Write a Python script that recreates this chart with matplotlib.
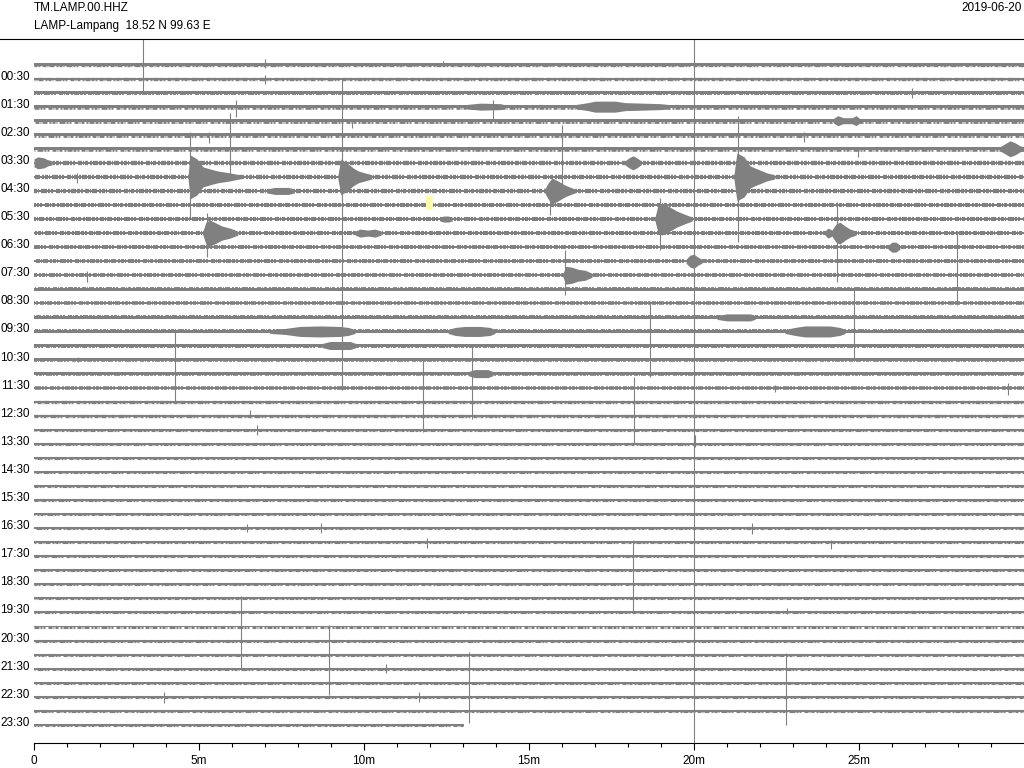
import matplotlib
matplotlib.use("Agg")
import numpy as np
import matplotlib.pyplot as plt
from matplotlib.patches import Rectangle
from matplotlib.lines import Line2D
from matplotlib.ticker import FixedLocator
import matplotlib.transforms as mtransforms

plt.rcParams['font.family'] = ['Liberation Sans', 'DejaVu Sans']
plt.rcParams['lines.scale_dashes'] = False

# ---------------- data ----------------
station = "TM.LAMP.00.HHZ"
site = "LAMP-Lampang  18.52 N 99.63 E"
date = "2019-06-20"

row_labels = ["00:30", "01:30", "02:30", "03:30", "04:30", "05:30", "06:30", "07:30",
              "08:30", "09:30", "10:30", "11:30", "12:30", "13:30", "14:30", "15:30",
              "16:30", "17:30", "18:30", "19:30", "20:30", "21:30", "22:30", "23:30"]
labelled_rows = [1, 3, 5, 7, 9, 11, 13, 15, 17, 19, 21, 23, 25, 27, 29, 31, 33, 35,
                 37, 39, 41, 43, 45, 47]

x_ticks = [0, 5, 10, 15, 20, 25]
x_ticklabels = ["0", "5m", "10m", "15m", "20m", "25m"]
x_minor = [1, 2, 3, 4, 6, 7, 8, 9, 11, 12, 13, 14, 16, 17, 18, 19, 21, 22, 23, 24,
           26, 27, 28, 29]

last_row_end = 13.03          # minutes of data in last half-hour line

# background noise half-amplitude of each half-hour trace (amplitude units)
noise_hw = [1.4, 1.4, 1.6, 1.9, 2.0, 2.0, 1.9, 1.8, 1.8, 1.8, 1.7, 1.7,
            1.7, 1.6, 1.6, 1.6, 1.6, 1.5, 1.6, 1.6, 1.6, 1.5, 1.5, 1.5,
            1.4, 1.4, 1.3, 1.3, 1.3, 1.3, 1.3, 1.3, 1.3, 1.3, 1.3, 1.3,
            1.3, 1.3, 1.3, 1.3, 1.3, 1.3, 1.3, 1.3, 1.3, 1.3, 1.3, 1.3]

# impulsive spikes: trace row, minute, upward and downward excursion
spike_row = [0, 0, 1, 8, 3, 4, 5, 8, 8, 9, 9, 8, 11, 12, 12, 12, 15, 15, 16, 17,
             19, 20, 21, 23, 23, 23, 25, 26, 27, 2, 5, 6, 4, 3, 33, 33, 34, 33,
             34, 34, 38, 40, 42, 42, 43, 45, 45, 0, 39, 21]
spike_min = [3.30, 7.00, 7.00, 9.33, 6.12, 5.94, 5.30, 4.73, 1.30, 16.00, 15.64,
             21.33, 18.97, 5.24, 24.33, 27.97, 16.09, 1.61, 24.85, 18.67, 4.27,
             13.27, 11.79, 18.18, 29.52, 22.45, 6.55, 6.76, 20.03, 26.61, 23.33,
             24.97, 9.64, 13.91, 6.45, 8.70, 11.91, 21.76, 24.15, 18.15, 6.27,
             8.94, 13.18, 22.79, 10.67, 3.94, 11.67, 12.39, 22.82, 1.33]
spike_up = [30, 6, 4, 99, 7, 8, 3, 45, 4, 66, 9, 61, 21, 20, 31, 2, 25, 4, 1, 2,
            2, 2, 2, 11, 5, 3, 6, 5, 9, 5, 3, 2, 1, 7, 4, 5, 4, 5, 2, 2, 2, 2, 3,
            2, 5, 5, 5, 4, 4, 3]
spike_dn = [26, 3, 5, 213, 10, 58, 8, 41, 6, 6, 24, 65, 31, 24, 49, 72, 20, 7,
            71, 74, 72, 73, 72, 56, 7, 4, 2, 5, 3, 5, 7, 8, 7, 13, 4, 5, 6, 6, 7,
            71, 70, 68, 68, 70, 4, 6, 5, 1, 2, 2]

# earthquake / noise-burst envelopes: trace row, minutes, half-amplitude
env_row = [8, 8, 8, 9, 11, 12, 12, 15, 6, 7, 7, 14,
           3, 3, 19, 19, 19, 20, 22, 4, 12, 18, 9, 13, 11]
env_min = [
    [4.67, 4.73, 4.94, 5.12, 5.33, 5.55, 5.94, 6.24],
    [9.21, 9.30, 9.52, 9.67, 9.82, 10.03, 10.24],
    [21.21, 21.30, 21.52, 21.70, 21.91, 22.21, 22.45],
    [15.48, 15.58, 15.70, 15.88, 16.03, 16.15, 16.39],
    [18.82, 18.91, 19.03, 19.27, 19.48, 19.70, 19.94],
    [5.12, 5.21, 5.33, 5.52, 5.70, 5.94, 6.18],
    [23.97, 24.06, 24.18, 24.30, 24.42, 24.58, 24.73, 24.91],
    [16.03, 16.12, 16.30, 16.48, 16.70, 16.91],
    [29.27, 29.42, 29.58, 29.73, 29.88, 30.00],
    [17.91, 18.03, 18.15, 18.27, 18.39],
    [0.00, 0.12, 0.30, 0.42, 0.55],
    [19.76, 19.88, 20.00, 20.12, 20.24],
    [13.06, 13.52, 14.12, 14.27],
    [16.39, 16.79, 17.00, 17.61, 17.91, 18.97, 19.27],
    [7.15, 7.61, 8.06, 8.67, 9.27, 9.52, 9.73],
    [12.55, 12.76, 13.06, 13.52, 13.82, 13.97],
    [22.76, 23.06, 23.36, 24.12, 24.42, 24.58],
    [8.73, 8.97, 9.58, 9.76],
    [13.15, 13.36, 13.76, 13.91],
    [24.21, 24.36, 24.52, 24.79, 24.91, 25.03],
    [9.73, 9.88, 10.12, 10.33, 10.52],
    [20.70, 21.00, 21.70, 21.85],
    [7.06, 7.30, 7.70, 7.88],
    [25.88, 26.00, 26.12, 26.24],
    [12.30, 12.42, 12.55, 12.67],
]
env_amp = [
    [2, 22, 18, 10, 8, 6, 4, 2],
    [2, 18, 13, 9, 6, 4, 2],
    [2, 24, 20, 11, 8, 4, 2],
    [2, 8, 13, 10, 7, 5, 2],
    [2, 14, 16, 12, 8, 5, 2],
    [2, 11, 13, 10, 7, 5, 2],
    [2, 5, 3, 9, 11, 7, 4, 2],
    [2, 9, 8, 6, 5, 2],
    [2, 5, 8, 6, 3, 2],
    [2, 5, 7, 5, 2],
    [4, 6, 5, 3, 2],
    [2, 6, 7, 4, 2],
    [2, 3.5, 3, 2],
    [2, 4, 5.5, 5.5, 4, 3, 2],
    [2, 3, 5, 5.5, 5, 4, 2],
    [2, 4, 5, 5, 4, 2],
    [2, 4, 5.5, 5.5, 4, 2],
    [2, 4, 4, 2],
    [2, 4, 4, 2],
    [2, 5, 3, 3, 5, 2],
    [2, 4, 3, 4, 2],
    [2, 3.5, 3.5, 2],
    [2, 3.5, 3.5, 2],
    [2, 5, 5, 2],
    [2, 3, 3, 2],
]

marker_min = 11.88     # yellow pick marker
marker_row = 9.86

# ---------------- styling / layout ----------------
W, H, DPI = 1024, 768, 100
TRACE = "#808080"
AMP = 14.05            # amplitude units per trace spacing
PT = 72.0 / DPI        # points per pixel
ax_left, ax_right, ax_top, ax_bot = 34, 1024, 39, 743
row0_px = 64.5
# irregular dash pattern (pixels): thick segments with short gaps
jitter_dash = [3, 1, 2, 2, 4, 1, 1, 1, 5, 2, 2, 1, 3, 1, 1, 2, 6, 1, 2, 1,
               2, 3, 4, 1, 1, 1, 3, 2, 2, 1, 5, 1]

fig = plt.figure(figsize=(W / DPI, H / DPI), dpi=DPI)
ax = fig.add_axes([ax_left / W, 1 - ax_bot / H, (ax_right - ax_left) / W,
                   (ax_bot - ax_top) / H])
ax.set_xlim(0, 30)
ax.set_ylim((ax_bot - row0_px) / AMP, (ax_top - row0_px) / AMP)

n_rows = len(noise_hw)
dash_pt = [d * PT for d in jitter_dash]
for r in range(n_rows):
    end = 30 if r < n_rows - 1 else last_row_end
    core = 0.75 * noise_hw[r] / AMP
    ax.fill_between([0, end], r - core, r + core, color=TRACE, lw=0, zorder=2)
    ax.plot([0, end], [r, r], color=TRACE, lw=2 * noise_hw[r] * 1.2 * PT,
            solid_capstyle="butt", dash_capstyle="butt",
            linestyle=((11 * r % 37) * PT, dash_pt), zorder=2)

for r, t, a in zip(env_row, env_min, env_amp):
    a = np.asarray(a) / AMP
    ax.fill_between(t, r - a, r + a, color=TRACE, lw=0, zorder=2)

sr = np.asarray(spike_row, dtype=float)
ax.vlines(spike_min, sr - np.asarray(spike_up) / AMP, sr + np.asarray(spike_dn) / AMP,
          color=TRACE, lw=0.8, zorder=2)

ax.axvline(20, color=TRACE, lw=0.8, zorder=2)

ax.add_patch(Rectangle((marker_min, marker_row - 0.5), 0.21, 1.0,
                       facecolor="#fffcb0", edgecolor="none", zorder=4))

for s in ("top", "left", "right"):
    ax.spines[s].set_visible(False)
ax.spines["bottom"].set_linewidth(0.8)
ax.spines["bottom"].set_color("black")

ax.set_xticks(x_ticks)
ax.set_xticklabels(x_ticklabels)
ax.xaxis.set_minor_locator(FixedLocator(x_minor))
ax.tick_params(axis="x", which="major", length=5.3, width=0.8, pad=3.5,
               labelsize=8.5, colors="black")
ax.tick_params(axis="x", which="minor", length=3.1, width=0.8)

ax.set_yticks(labelled_rows)
ax.set_yticklabels(row_labels)
ax.tick_params(axis="y", length=0, pad=3, labelsize=8.5)
shift = mtransforms.ScaledTranslation(0, 3.5 / DPI, fig.dpi_scale_trans)
for lab in ax.get_yticklabels():
    lab.set_transform(lab.get_transform() + shift)

fig.add_artist(Line2D([0, 1], [1 - ax_top / H] * 2, transform=fig.transFigure,
                      color="black", lw=0.8))
fig.text(34 / W, 1 - 8 / H, station, ha="left", va="center", fontsize=8.5)
fig.text(34 / W, 1 - 26 / H, site, ha="left", va="center", fontsize=8.5)
fig.text(1022 / W, 1 - 8 / H, date, ha="right", va="center", fontsize=8.5)

fig.savefig("out.png", dpi=DPI)
